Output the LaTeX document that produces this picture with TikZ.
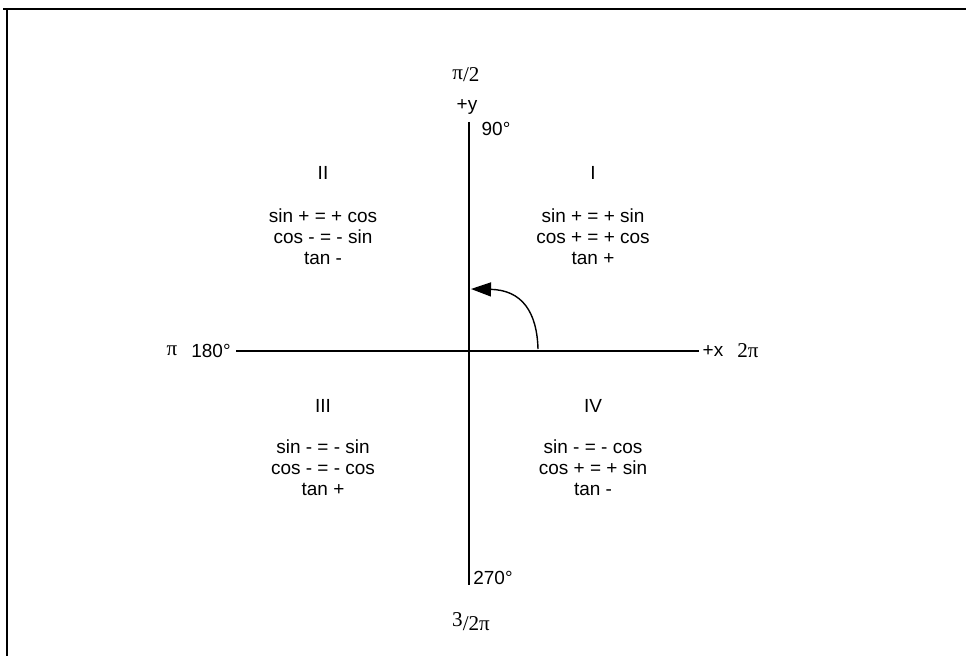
\documentclass[tikz,border=0pt]{standalone}
\usepackage{fontspec}
\setmainfont{Liberation Sans}
\newfontfamily\pifont{Liberation Serif}
\usetikzlibrary{arrows.meta, positioning}

\begin{document}
\begin{tikzpicture}[
            x=0.025cm, y=-0.025cm,
            lbl/.style={inner sep=0pt, font=\fontsize{13.5}{15}\selectfont, align=center},
            pilbl/.style={inner sep=0pt, font=\pifont\fontsize{15}{17}\selectfont},
            axis/.style={line width=1pt},
            frame/.style={line width=1.5pt}
        ]
            \useasboundingbox (0,0) rectangle (966,656);
            \draw[frame] (3,9) -- (966,9);
            \draw[frame] (7,9) -- (7,656);

            \coordinate (ytop) at (469,122);
            \coordinate (ybot) at (469,585);
            \coordinate (xleft) at (236,351);
            \coordinate (xright) at (699,351);
            \coordinate (arcstart) at (538,349);
            \coordinate (arctip) at (471,289);

            \draw[axis] (ytop) -- (ybot);
            \draw[axis] (xleft) -- (xright);
            \draw[axis, -{Triangle[length=0.5cm, width=0.35cm]}] (arcstart) .. controls (537,312) and (522,290) .. (arctip);

            \node[pilbl] (pihalf) at (466,75) {π\raisebox{-2pt}{/2}};
            \node[lbl] (plusy) at (467,107) {+y};
            \node[lbl] (deg90) at (496,129) {90°};
            \node[pilbl] (pi) at (172,351) {π};
            \node[lbl] (deg180) at (211,351) {180°};
            \node[lbl] (plusx) at (713,351) {+x};
            \node[pilbl] (twopi) at (748,351) {2π};
            \node[lbl] (deg270) at (493,578) {270°};
            \node[pilbl] (threehalfpi) at (471,622) {\raisebox{3pt}{3}/2π};

            \node[lbl] (quadI) at (593,173) {I};
            \node[lbl] (rulesI) at (593,237) {sin + = + sin\\cos + = + cos\\tan +};
            \node[lbl] (quadII) at (323,173) {II};
            \node[lbl] (rulesII) at (323,237) {sin + = + cos\\cos - = - sin\\tan -};
            \node[lbl] (quadIII) at (323,406) {III};
            \node[lbl] (rulesIII) at (323,468) {sin - = - sin\\cos - = - cos\\tan +};
            \node[lbl] (quadIV) at (593,406) {IV};
            \node[lbl] (rulesIV) at (593,468) {sin - = - cos\\cos + = + sin\\tan -};
        \end{tikzpicture}
\end{document}
